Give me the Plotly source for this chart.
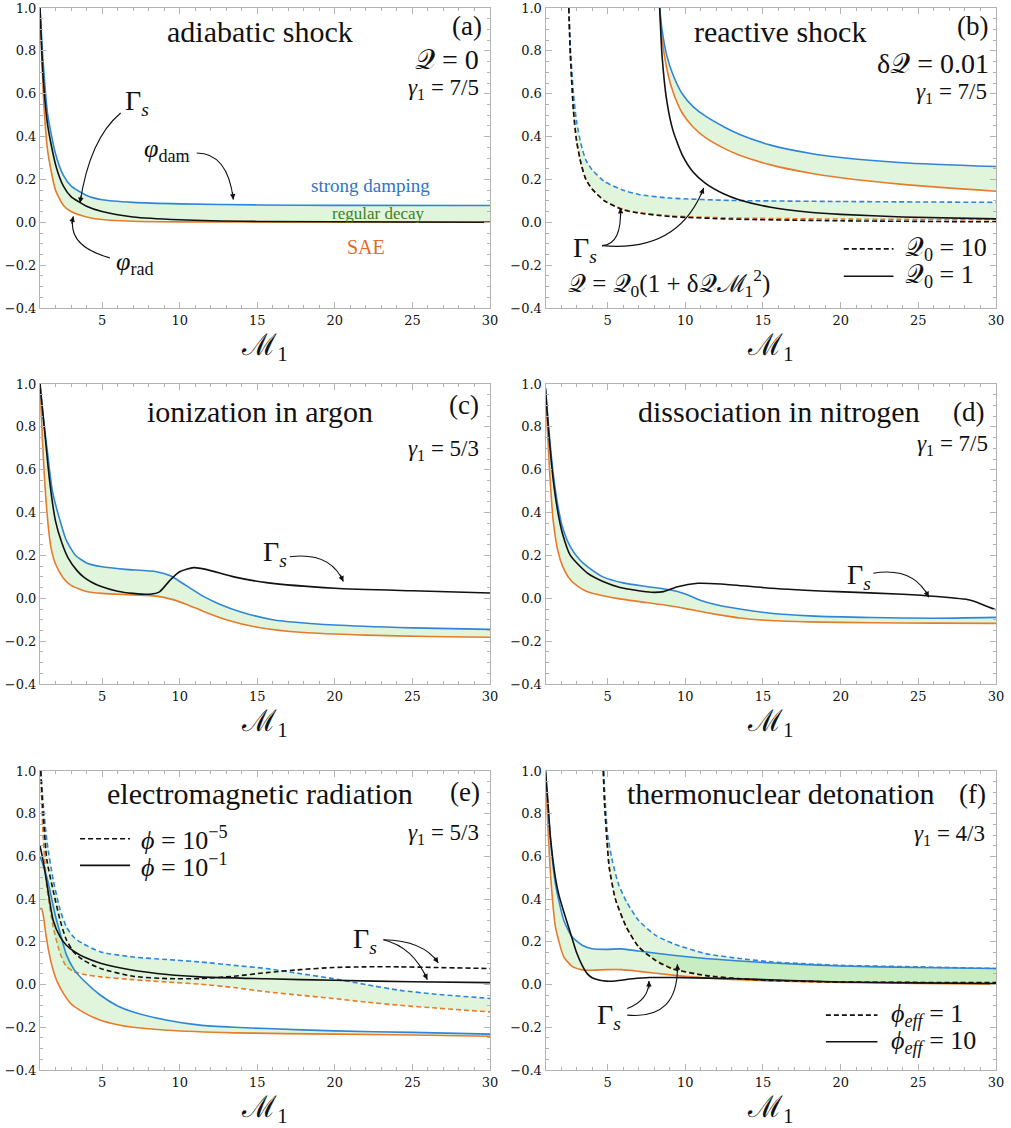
import math
import plotly.graph_objects as go

BLUE = "#2f86d8"
ORANGE = "#e47c2c"
BLACK = "#111111"
FILL = "rgba(120,210,100,0.22)"
FONT = "Liberation Serif"
TICKFONT = "DejaVu Serif"
TXT = "#111111"

# ---------------- data ----------------
# (a) adiabatic shock
a_dam_x = [1.0, 1.2, 1.5, 2.0, 2.5, 3.0, 4.0, 5.0, 7.0, 10.0, 15.0, 20.0, 30.0]
a_dam_y = [1.0, 0.75, 0.5, 0.32, 0.22, 0.17, 0.125, 0.105, 0.093, 0.086, 0.081, 0.079, 0.078]
a_rad_x = [1.0, 1.1, 1.25, 1.5, 2.0, 2.5, 3.0, 4.0, 5.0, 7.0, 10.0, 30.0]
a_rad_y = [1.0, 0.8, 0.55, 0.33, 0.15, 0.08, 0.05, 0.025, 0.013, 0.005, 0.002, 0.0]
a_gam_x = [1.0, 1.2, 1.5, 2.0, 2.5, 3.0, 4.0, 5.0, 7.0, 10.0, 15.0, 30.0]
a_gam_y = [1.0, 0.68, 0.45, 0.27, 0.17, 0.12, 0.075, 0.05, 0.025, 0.012, 0.004, 0.0]

# (b) reactive shock : Q0 = 1 (solid) and Q0 = 10 (dashed)
b_sol_x = [8.35, 8.5, 8.8, 9.2, 9.8, 10.5, 11.3, 12.5, 13.5, 15.5, 18, 20, 24, 30]
b_dam_sol = [1.0, 0.9, 0.78, 0.69, 0.6, 0.54, 0.495, 0.445, 0.41, 0.36, 0.322, 0.302, 0.278, 0.26]
b_rad_sol = [1.0, 0.86, 0.72, 0.61, 0.51, 0.445, 0.395, 0.345, 0.313, 0.268, 0.23, 0.208, 0.177, 0.145]
b_gam_sol = [1.0, 0.78, 0.57, 0.43, 0.315, 0.235, 0.182, 0.132, 0.104, 0.07, 0.047, 0.037, 0.025, 0.016]
b_das_x = [2.5, 2.6, 2.8, 3.0, 3.3, 3.6, 4.0, 4.8, 6, 7, 9, 13, 20, 30]
b_dam_das = [1.0, 0.82, 0.6, 0.47, 0.36, 0.29, 0.245, 0.19, 0.15, 0.13, 0.113, 0.102, 0.097, 0.093]
b_rad_das = [1.0, 0.78, 0.52, 0.38, 0.27, 0.2, 0.155, 0.1, 0.06, 0.046, 0.03, 0.02, 0.015, 0.012]
b_gam_das = [1.0, 0.78, 0.52, 0.38, 0.27, 0.2, 0.155, 0.1, 0.058, 0.043, 0.027, 0.015, 0.007, 0.002]

# (c) ionization in argon
c_dam_x = [1.0, 1.2, 1.45, 1.8, 2.3, 2.7, 3.3, 4.0, 5, 6.5, 8.5, 9.4, 10.4, 11.5, 12.5, 14, 16, 20, 25, 30]
c_dam_y = [1.0, 0.85, 0.7, 0.5, 0.36, 0.27, 0.2, 0.165, 0.147, 0.135, 0.124, 0.105, 0.06, 0.01, -0.025, -0.065, -0.1, -0.125, -0.138, -0.145]
c_rad_x = [1.0, 1.15, 1.3, 1.5, 1.7, 2.0, 2.5, 3.0, 4.0, 5, 7, 8.5, 9.5, 10.5, 11.5, 13, 15, 18, 22, 26, 30]
c_rad_y = [1.0, 0.75, 0.55, 0.36, 0.24, 0.16, 0.095, 0.06, 0.032, 0.023, 0.016, 0.01, -0.005, -0.03, -0.06, -0.1, -0.135, -0.16, -0.172, -0.178, -0.182]
c_gam_x = [1.0, 1.3, 1.6, 2.0, 2.4, 2.8, 3.4, 3.8, 4.3, 4.9, 6, 7, 8.1, 8.7, 9.4, 10.0, 10.9, 11.7, 13.5, 15.6, 20, 25, 30]
c_gam_y = [1.0, 0.78, 0.56, 0.36, 0.26, 0.19, 0.128, 0.1, 0.076, 0.056, 0.033, 0.023, 0.019, 0.03, 0.086, 0.124, 0.143, 0.135, 0.1, 0.073, 0.047, 0.035, 0.025]

# (d) dissociation in nitrogen
d_dam_x = [1.0, 1.2, 1.5, 1.8, 2.1, 2.6, 3.2, 3.7, 4.7, 6, 7.5, 9, 10, 11, 12, 13.5, 15.5, 18, 22, 26, 30]
d_dam_y = [0.98, 0.8, 0.58, 0.43, 0.33, 0.24, 0.18, 0.148, 0.1, 0.072, 0.055, 0.04, 0.02, -0.01, -0.03, -0.05, -0.07, -0.082, -0.09, -0.093, -0.089]
d_rad_x = [1.0, 1.15, 1.3, 1.5, 1.8, 2.1, 2.6, 3.2, 3.7, 4.7, 6, 7.5, 9, 10.5, 12, 13.5, 15.5, 18, 22, 26, 30]
d_rad_y = [0.97, 0.75, 0.55, 0.36, 0.22, 0.15, 0.086, 0.05, 0.031, 0.012, -0.005, -0.02, -0.035, -0.055, -0.075, -0.092, -0.104, -0.11, -0.114, -0.116, -0.117]
d_gam_x = [1.0, 1.2, 1.5, 1.8, 2.1, 2.6, 3.7, 4.7, 5.8, 6.9, 7.8, 8.6, 9.5, 10.8, 12.3, 15.5, 19.8, 24, 26.2, 28.3, 29.2, 30]
d_gam_y = [0.98, 0.78, 0.55, 0.4, 0.3, 0.2, 0.117, 0.078, 0.05, 0.036, 0.028, 0.031, 0.054, 0.07, 0.067, 0.047, 0.031, 0.019, 0.008, -0.008, -0.031, -0.054]

# (e) electromagnetic radiation : phi = 1e-5 (dashed), phi = 1e-1 (solid)
e_das_x = [1.05, 1.2, 1.45, 1.85, 2.3, 2.7, 3.2, 3.8, 4.9, 7, 9.2, 11.3, 13.5, 15.6, 17.8, 19.9, 22, 24.2, 26.5, 30]
e_dam_das = [1.0, 0.85, 0.67, 0.49, 0.35, 0.27, 0.22, 0.19, 0.153, 0.129, 0.117, 0.106, 0.09, 0.075, 0.051, 0.028, 0.0, -0.027, -0.045, -0.065]
e_rad_das = [1.0, 0.7, 0.45, 0.27, 0.145, 0.085, 0.06, 0.048, 0.036, 0.023, 0.012, 0.002, -0.014, -0.034, -0.05, -0.065, -0.082, -0.097, -0.11, -0.128]
e_gam_das = [1.0, 0.8, 0.58, 0.44, 0.3, 0.21, 0.15, 0.114, 0.075, 0.039, 0.028, 0.028, 0.039, 0.056, 0.07, 0.08, 0.083, 0.083, 0.08, 0.075]
e_dam_sol_x = [1.0, 1.2, 1.45, 1.7, 2.0, 2.3, 2.7, 3.2, 3.8, 4.9, 6, 7, 9.2, 11.3, 13.5, 15.6, 20, 25, 30]
e_dam_sol = [0.6, 0.56, 0.5, 0.42, 0.32, 0.24, 0.14, 0.07, 0.02, -0.05, -0.1, -0.128, -0.167, -0.19, -0.2, -0.206, -0.217, -0.224, -0.232]
e_rad_sol_x = [1.0, 1.1, 1.2, 1.35, 1.55, 1.8, 2.1, 2.5, 3.0, 3.8, 4.9, 6, 7, 9.2, 13.5, 20, 25, 30]
e_rad_sol = [0.355, 0.355, 0.33, 0.25, 0.16, 0.08, 0.015, -0.04, -0.09, -0.13, -0.167, -0.188, -0.2, -0.214, -0.226, -0.232, -0.236, -0.242]
e_gam_sol_x = [1.0, 1.2, 1.45, 1.85, 2.3, 2.7, 3.2, 3.8, 4.9, 7, 9.2, 11.3, 15.6, 20, 25, 30]
e_gam_sol = [0.65, 0.58, 0.47, 0.3, 0.223, 0.184, 0.155, 0.13, 0.1, 0.067, 0.047, 0.036, 0.027, 0.02, 0.013, 0.009]

# (f) thermonuclear detonation : phi_eff = 1 (dashed), phi_eff = 10 (solid)
f_dam_sol_x = [1.0, 1.15, 1.32, 1.64, 2.18, 2.72, 3.36, 4.0, 4.9, 5.9, 7, 9.2, 11.3, 15.6, 20, 25, 30]
f_dam_sol = [1.0, 0.85, 0.675, 0.472, 0.3, 0.223, 0.184, 0.168, 0.165, 0.167, 0.157, 0.137, 0.122, 0.101, 0.087, 0.08, 0.075]
f_rad_sol_x = [1.0, 1.15, 1.32, 1.64, 2.18, 2.72, 3.3, 3.8, 4.9, 5.9, 7, 9.2, 11.3, 15.6, 20, 25, 30]
f_rad_sol = [0.99, 0.75, 0.52, 0.27, 0.13, 0.085, 0.07, 0.067, 0.07, 0.07, 0.062, 0.044, 0.031, 0.017, 0.01, 0.005, 0.002]
f_gam_sol_x = [1.0, 1.15, 1.32, 1.64, 1.86, 2.18, 2.72, 3.0, 3.36, 3.7, 4.0, 4.5, 4.9, 5.5, 6.6, 7.7, 9.2, 13.5, 20, 25, 30]
f_gam_sol = [1.0, 0.86, 0.69, 0.5, 0.42, 0.34, 0.215, 0.15, 0.09, 0.05, 0.032, 0.02, 0.016, 0.017, 0.027, 0.033, 0.033, 0.027, 0.012, 0.008, 0.005]
f_dam_das_x = [4.75, 4.85, 5.0, 5.3, 5.7, 6.2, 7, 8.1, 9.2, 11.3, 13.5, 15.6, 20, 25, 30]
f_dam_das = [1.0, 0.85, 0.7, 0.58, 0.47, 0.39, 0.3, 0.23, 0.192, 0.145, 0.122, 0.106, 0.09, 0.083, 0.075]
f_das_x = [4.72, 4.8, 4.95, 5.1, 5.5, 6.2, 7, 8.1, 9.2, 11.3, 13.5, 15.6, 20, 25, 30]
f_rad_das = [1.0, 0.85, 0.68, 0.55, 0.4, 0.27, 0.176, 0.114, 0.075, 0.044, 0.028, 0.02, 0.012, 0.009, 0.008]
f_gam_das = [1.0, 0.85, 0.68, 0.55, 0.4, 0.27, 0.176, 0.112, 0.073, 0.042, 0.027, 0.019, 0.012, 0.01, 0.009]

x_ticks = [5, 10, 15, 20, 25, 30]
x_range = [1, 30]
y_range = [-0.4, 1.0]

# ---------------- figure ----------------
W, H = 1011, 1128
fig = go.Figure()

col_dom = [[40 / W, 490 / W], [545.5 / W, 996 / W]]
row_px = [(8, 308), (384, 684), (771, 1070)]
SX = 450 / 29.0
SY = 300 / 1.4


def refs(n):
    return ("x" if n == 1 else f"x{n}"), ("y" if n == 1 else f"y{n}")


def line(n, x, y, color, dash=None, fill=None):
    xr, yr = refs(n)
    fig.add_trace(go.Scatter(
        x=x, y=y, xaxis=xr, yaxis=yr, mode="lines",
        line=dict(color=color, width=1.6, shape="spline", smoothing=0.6,
                  dash=("5px,3px" if dash else "solid")),
        fill=fill, fillcolor=FILL if fill else None,
        showlegend=False, hoverinfo="skip"))


# (a)
line(1, a_rad_x, a_rad_y, ORANGE)
line(1, a_dam_x, a_dam_y, BLUE, fill="tonexty")
line(1, a_gam_x, a_gam_y, BLACK)
# (b)
line(2, b_das_x, b_rad_das, ORANGE, dash=True)
line(2, b_das_x, b_dam_das, BLUE, dash=True, fill="tonexty")
line(2, b_sol_x, b_rad_sol, ORANGE)
line(2, b_sol_x, b_dam_sol, BLUE, fill="tonexty")
line(2, b_das_x, b_gam_das, BLACK, dash=True)
line(2, b_sol_x, b_gam_sol, BLACK)
# (c)
line(3, c_rad_x, c_rad_y, ORANGE)
line(3, c_dam_x, c_dam_y, BLUE, fill="tonexty")
line(3, c_gam_x, c_gam_y, BLACK)
# (d)
line(4, d_rad_x, d_rad_y, ORANGE)
line(4, d_dam_x, d_dam_y, BLUE, fill="tonexty")
line(4, d_gam_x, d_gam_y, BLACK)
# (e)
line(5, e_das_x, e_rad_das, ORANGE, dash=True)
line(5, e_das_x, e_dam_das, BLUE, dash=True, fill="tonexty")
line(5, e_rad_sol_x, e_rad_sol, ORANGE)
line(5, e_dam_sol_x, e_dam_sol, BLUE, fill="tonexty")
line(5, e_das_x, e_gam_das, BLACK, dash=True)
line(5, e_gam_sol_x, e_gam_sol, BLACK)
# (f)
line(6, f_das_x, f_rad_das, ORANGE, dash=True)
line(6, f_dam_das_x, f_dam_das, BLUE, dash=True, fill="tonexty")
line(6, f_rad_sol_x, f_rad_sol, ORANGE)
line(6, f_dam_sol_x, f_dam_sol, BLUE, fill="tonexty")
line(6, f_das_x, f_gam_das, BLACK, dash=True)
line(6, f_gam_sol_x, f_gam_sol, BLACK)

# ---------------- axes ----------------
layout = {}
for n in range(1, 7):
    r = (n - 1) // 2
    c = (n - 1) % 2
    top, bot = row_px[r]
    xr, yr = refs(n)
    xk = "xaxis" if n == 1 else f"xaxis{n}"
    yk = "yaxis" if n == 1 else f"yaxis{n}"
    common = dict(showgrid=False, zeroline=False, showline=True, linecolor="#b3b3b3",
                  linewidth=1, mirror="allticks", ticks="inside", ticklen=6,
                  tickcolor="#b3b3b3", tickwidth=1,
                  tickfont=dict(family=TICKFONT, size=13, color=TXT), automargin=False)
    layout[xk] = dict(common, domain=col_dom[c], anchor=yr, range=x_range,
                      tickvals=x_ticks,
                      minor=dict(dtick=1, tick0=0, ticks="inside", ticklen=3, tickcolor="#b3b3b3"),
                      title=dict(text="ℳ<sub>1</sub>", font=dict(family=FONT, size=30, color=TXT),
                                 standoff=5))
    layout[yk] = dict(common, domain=[1 - bot / H, 1 - top / H], anchor=xr, range=y_range,
                      dtick=0.2, tick0=0, tickformat=".1f",
                      minor=dict(dtick=0.05, tick0=0, ticks="inside", ticklen=3, tickcolor="#b3b3b3"))

fig.update_layout(width=W, height=H, margin=dict(l=0, r=0, t=0, b=0),
                  paper_bgcolor="white", plot_bgcolor="white",
                  font=dict(family=FONT, color=TXT), **layout)


def text(n, x, y, s, size, color=TXT, xanchor="center"):
    xr, yr = refs(n)
    fig.add_annotation(x=x, y=y, xref=xr, yref=yr, text=s, showarrow=False,
                       font=dict(family=FONT, size=size, color=color),
                       xanchor=xanchor, yanchor="middle")


def carrow(n, x0, y0, cx, cy, x1, y1):
    xr, yr = refs(n)
    fig.add_shape(type="path", path=f"M {x0},{y0} Q {cx},{cy} {x1},{y1}",
                  xref=xr, yref=yr, line=dict(color=BLACK, width=1.1))
    dx = (x1 - cx) * SX
    dy = -(y1 - cy) * SY
    L = math.hypot(dx, dy) or 1.0
    fig.add_annotation(x=x1, y=y1, xref=xr, yref=yr, text="", showarrow=True,
                       ax=-dx / L * 9, ay=-dy / L * 9, arrowhead=2, arrowsize=1,
                       arrowwidth=1.1, arrowcolor=BLACK, standoff=0)


def key(n, x0, x1, y, dash):
    xr, yr = refs(n)
    fig.add_shape(type="line", x0=x0, x1=x1, y0=y, y1=y, xref=xr, yref=yr,
                  line=dict(color=BLACK, width=1.6, dash=("5px,3px" if dash else "solid")))


G = "Γ<sub><i>s</i></sub>"
GAM = 23
LEG = 26
# (a)
text(1, 15.2, 0.891, "adiabatic shock", 30)
text(1, 28.5, 0.914, "(a)", 27)
text(1, 29.4, 0.759, "𝒬 = 0", 28, xanchor="right")
text(1, 29.45, 0.622, "<i>γ</i><sub>1</sub> = 7/5", GAM, xanchor="right")
text(1, 7.25, 0.557, G, 28)
carrow(1, 6.2, 0.51, 4.2, 0.39, 3.58, 0.09)
text(1, 9.2, 0.339, "<i>φ</i><sub>dam</sub>", 26)
carrow(1, 11.1, 0.323, 13.1, 0.323, 13.46, 0.106)
text(1, 7.1, -0.19, "<i>φ</i><sub>rad</sub>", 26)
carrow(1, 5.5, -0.166, 2.7, -0.11, 3.15, 0.028)
text(1, 22.3, 0.17, "strong damping", 19, color="#2e74c9")
text(1, 22.8, 0.04, "regular decay", 17, color="#3f7f2a")
text(1, 22.0, -0.113, "SAE", 20, color="#e06a2c")

# (b)
text(2, 16.1, 0.891, "reactive shock", 30)
text(2, 28.5, 0.914, "(b)", 27)
text(2, 29.7, 0.743, "δ𝒬 = 0.01", 28, xanchor="right")
text(2, 29.55, 0.603, "<i>γ</i><sub>1</sub> = 7/5", GAM, xanchor="right")
text(2, 3.57, -0.128, G, 28)
carrow(2, 4.64, -0.109, 5.93, -0.104, 5.82, 0.067)
carrow(2, 4.64, -0.109, 9.57, -0.143, 11.18, 0.16)
text(2, 2.3, -0.283, "𝒬 = 𝒬<sub>0</sub>(1 + δ𝒬ℳ<sub>1</sub><sup>2</sup>)", 25, xanchor="left")
key(2, 20.2, 23.4, -0.124, True)
text(2, 24.0, -0.124, "𝒬<sub>0</sub> = 10", LEG, xanchor="left")
key(2, 20.2, 23.4, -0.252, False)
text(2, 24.0, -0.252, "𝒬<sub>0</sub> = 1", LEG, xanchor="left")

# (c)
text(3, 15.2, 0.871, "ionization in argon", 30)
text(3, 28.3, 0.902, "(c)", 27)
text(3, 29.45, 0.692, "<i>γ</i><sub>1</sub> = 5/3", GAM, xanchor="right")
text(3, 16.15, 0.21, G, 28)
carrow(3, 17.1, 0.194, 19.7, 0.218, 20.55, 0.078)

# (d)
text(4, 16.0, 0.871, "dissociation in nitrogen", 30)
text(4, 28.2, 0.871, "(d)", 27)
text(4, 29.6, 0.715, "<i>γ</i><sub>1</sub> = 7/5", GAM, xanchor="right")
text(4, 21.16, 0.101, G, 28)
carrow(4, 22.1, 0.117, 24.7, 0.148, 25.67, 0.005)

# (e)
text(5, 15.2, 0.893, "electromagnetic radiation", 30)
text(5, 28.4, 0.901, "(e)", 27)
text(5, 29.45, 0.706, "<i>γ</i><sub>1</sub> = 5/3", GAM, xanchor="right")
key(5, 3.58, 6.8, 0.683, True)
text(5, 7.4, 0.683, "<i>ϕ</i> = 10<sup>−5</sup>", LEG, xanchor="left")
key(5, 3.58, 6.8, 0.558, False)
text(5, 7.4, 0.558, "<i>ϕ</i> = 10<sup>−1</sup>", LEG, xanchor="left")
text(5, 21.95, 0.207, G, 28)
carrow(5, 23.13, 0.21, 25.7, 0.207, 26.67, 0.101)
carrow(5, 23.13, 0.21, 25.06, 0.176, 25.96, 0.023)

# (f)
text(6, 16.15, 0.893, "thermonuclear detonation", 30)
text(6, 28.5, 0.893, "(f)", 27)
text(6, 29.45, 0.698, "<i>γ</i><sub>1</sub> = 4/3", GAM, xanchor="right")
key(6, 19.05, 22.37, -0.143, True)
text(6, 23.1, -0.143, "<i>ϕ</i><sub><i>eff</i></sub> = 1", LEG, xanchor="left")
key(6, 19.05, 22.37, -0.268, False)
text(6, 23.1, -0.268, "<i>ϕ</i><sub><i>eff</i></sub> = 10", LEG, xanchor="left")
text(6, 5.08, -0.151, G, 28)
carrow(6, 6.26, -0.112, 7.66, -0.073, 7.66, 0.017)
carrow(6, 6.26, -0.143, 9.59, -0.167, 9.49, 0.095)

fig.write_html("out.html")
